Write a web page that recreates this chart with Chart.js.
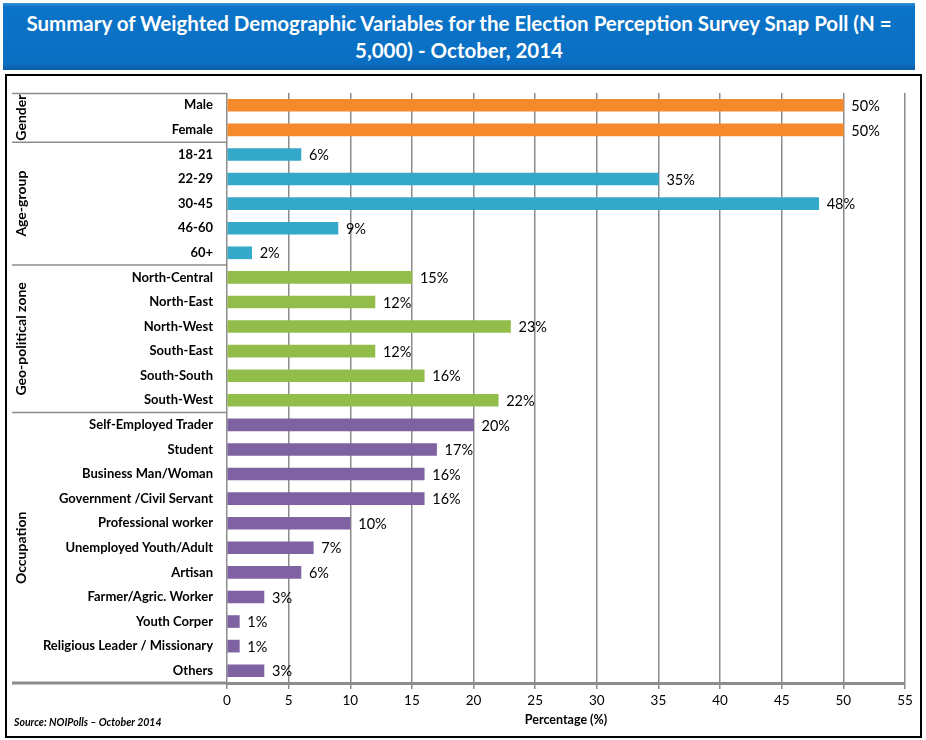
<!DOCTYPE html>
<html>
<head>
<meta charset="utf-8">
<script src="https://cdn.jsdelivr.net/npm/chart.js@4/dist/chart.umd.min.js"></script>
<style>
  body { margin: 0; background: #fff; }
  #wrap { position: relative; width: 926px; height: 740px; overflow: hidden; }
  #banner {
    position: absolute; left: 3px; top: 3px; width: 912px; height: 67px;
    background: linear-gradient(#3a93d8 0px, #0b74c8 4px, #0a6fc2 60px, #0a5ea6 67px);
    color: #fff; font: bold 20.5px Lato, "Open Sans", sans-serif;
    text-align: center; line-height: 27px; padding-top: 7px; box-sizing: border-box;
  }
  #box { position: absolute; left: 5px; top: 74px; width: 913px; height: 660px; border: 2px solid #000; }
  #c { position: absolute; left: 0; top: 0; }
  #source { position: absolute; left: 14px; top: 716px; font: italic bold 10.5px Lato, sans-serif; color: #000; }
</style>
</head>
<body>
<div id="wrap">
  <div id="banner">Summary of Weighted Demographic Variables for the Election Perception Survey Snap Poll (N =<br>5,000) - October, 2014</div>
  <div id="box"></div>
  <canvas id="c" width="926" height="740"></canvas>
  <div id="source">Source: NOIPolls – October 2014</div>
</div>
<script>
const groupNames = ['Gender', 'Age-group', 'Geo-political zone', 'Occupation'];

const genderLabels = ['Male', 'Female'];
const genderValues = [50, 50];

const ageLabels = ['18-21', '22-29', '30-45', '46-60', '60+'];
const ageValues = [6, 35, 48, 9, 2];

const zoneLabels = ['North-Central', 'North-East', 'North-West', 'South-East', 'South-South', 'South-West'];
const zoneValues = [15, 12, 23, 12, 16, 22];

const occupationLabels = ['Self-Employed Trader', 'Student', 'Business Man/Woman', 'Government /Civil Servant',
  'Professional worker', 'Unemployed Youth/Adult', 'Artisan', 'Farmer/Agric. Worker', 'Youth Corper',
  'Religious Leader / Missionary', 'Others'];
const occupationValues = [20, 17, 16, 16, 10, 7, 6, 3, 1, 1, 3];

const xMax = 55;
const xStep = 5;

// colours per group: light top, main, dark bottom
const groupColors = [
  ['#fbab66', '#f58a2c', '#d9721e'],
  ['#6cc3da', '#35a9c9', '#2488a5'],
  ['#b2d275', '#93bd4b', '#76a032'],
  ['#9d86bb', '#7f62a1', '#654a86']
];

const groups = [
  { labels: genderLabels, values: genderValues },
  { labels: ageLabels, values: ageValues },
  { labels: zoneLabels, values: zoneValues },
  { labels: occupationLabels, values: occupationValues }
];

const labels = [];
const values = [];
const groupIndex = [];
groups.forEach((g, gi) => {
  g.labels.forEach((l, i) => {
    labels.push(l);
    values.push(g.values[i]);
    groupIndex.push(gi);
  });
});

function barFill(c) {
  const cols = groupColors[groupIndex[c.dataIndex]];
  const el = c.element;
  if (!el || el.y == null || isNaN(el.y)) return cols[1];
  const g = c.chart.ctx.createLinearGradient(0, el.y - 6, 0, el.y + 6);
  g.addColorStop(0, cols[0]);
  g.addColorStop(0.35, cols[1]);
  g.addColorStop(0.75, cols[1]);
  g.addColorStop(1, cols[2]);
  return g;
}

const valueLabels = {
  id: 'valueLabels',
  afterDatasetsDraw(chart) {
    const ctx = chart.ctx;
    const meta = chart.getDatasetMeta(0);
    ctx.save();
    ctx.font = '14.5px Lato, sans-serif';
    ctx.fillStyle = '#000';
    ctx.textBaseline = 'middle';
    ctx.textAlign = 'left';
    meta.data.forEach((bar, i) => {
      ctx.fillText(values[i] + '%', bar.x + 8, bar.y + 1);
    });
    ctx.restore();
  }
};

const groupFrame = {
  id: 'groupFrame',
  afterDraw(chart) {
    const { ctx, scales: { x, y } } = chart;
    const half = (y.getPixelForValue(1) - y.getPixelForValue(0)) / 2;
    const left = 12;
    ctx.save();
    ctx.strokeStyle = '#8c8c8c';
    ctx.lineWidth = 1.5;
    // top line of label area
    ctx.beginPath();
    ctx.moveTo(left, y.top + 0.5);
    ctx.lineTo(x.left, y.top + 0.5);
    ctx.stroke();
    let start = 0;
    groups.forEach((g, gi) => {
      const end = start + g.labels.length - 1;
      const yTop = y.getPixelForValue(start) - half;
      const yBot = y.getPixelForValue(end) + half;
      if (gi < groups.length - 1) {
        ctx.strokeStyle = '#8c8c8c';
        ctx.lineWidth = 1.5;
        ctx.beginPath();
        ctx.moveTo(left, yBot);
        ctx.lineTo(x.left, yBot);
        ctx.stroke();
      }
      ctx.save();
      ctx.translate(21, (yTop + yBot) / 2);
      ctx.rotate(-Math.PI / 2);
      ctx.font = 'bold 14px Lato, sans-serif';
      ctx.fillStyle = '#000';
      ctx.textAlign = 'center';
      ctx.textBaseline = 'middle';
      ctx.fillText(groupNames[gi], 0, 0);
      ctx.restore();
      start = end + 1;
    });
    // bottom axis extension to the left
    ctx.strokeStyle = '#8c8c8c';
    ctx.lineWidth = 3;
    ctx.beginPath();
    ctx.moveTo(left, y.bottom);
    ctx.lineTo(x.left, y.bottom);
    ctx.stroke();
    ctx.restore();
  }
};

new Chart(document.getElementById('c'), {
  type: 'bar',
  data: {
    labels: labels,
    datasets: [{
      data: values,
      backgroundColor: barFill,
      borderWidth: 0,
      barThickness: 12
    }]
  },
  plugins: [valueLabels, groupFrame],
  options: {
    indexAxis: 'y',
    responsive: false,
    animation: false,
    layout: { padding: { top: 93, right: 21, bottom: 8, left: 0 } },
    plugins: { legend: { display: false }, tooltip: { enabled: false } },
    scales: {
      x: {
        min: 0,
        max: xMax,
        ticks: { stepSize: xStep, color: '#000', font: { family: 'Lato', size: 13.5 }, padding: 4 },
        grid: { color: '#8c8c8c', lineWidth: 1.5, tickLength: 6 },
        border: { color: '#8c8c8c', width: 3 },
        title: { display: true, text: 'Percentage (%)', color: '#000', font: { family: 'Lato', size: 12.5, weight: 'bold' }, padding: { top: 0, bottom: 5 } },
        afterFit(scale) { scale.height = 740 - 8 - 683; }
      },
      y: {
        ticks: { color: '#000', font: { family: 'Lato', size: 13, weight: 'bold' }, padding: 14, autoSkip: false },
        grid: { display: false, drawTicks: false },
        border: { display: false },
        afterFit(scale) { scale.width = 227; }
      }
    }
  }
});
</script>
</body>
</html>
